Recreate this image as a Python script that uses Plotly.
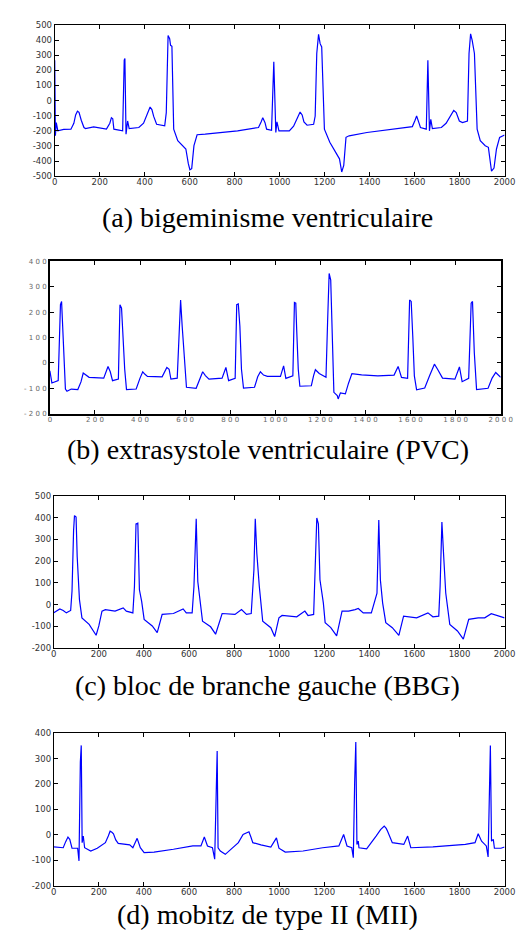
import plotly.graph_objects as go

# ---------------- data ----------------
# (a) bigeminisme ventriculaire
a_x = [0, 3, 7, 14, 40, 72, 85, 93, 101, 108, 118, 130, 137, 173, 230, 245, 252, 258, 263, 302, 309,
       312, 317, 324, 331, 374, 395, 412, 424, 432, 440, 453, 489, 496, 504, 511, 515, 521, 529, 547,
       576, 583, 594, 601, 609, 619, 633, 669, 813, 906, 918, 925, 935, 942, 964, 974, 983, 988, 997,
       1043, 1062, 1080, 1091, 1100, 1108, 1122, 1151, 1158, 1165, 1173, 1180, 1187, 1199, 1223, 1259,
       1266, 1276, 1285, 1295, 1309, 1388, 1532, 1590, 1602, 1609, 1619, 1626, 1652, 1659, 1666, 1672,
       1679, 1719, 1740, 1760, 1774, 1785, 1799, 1813, 1835, 1842, 1849, 1856, 1866, 1878, 1892, 1914,
       1928, 1942, 1953, 1964, 1978, 2000]
a_y = [267, -233, -146, -200, -190, -189, -150, -95, -70, -78, -130, -178, -185, -174, -189, -150, -113,
       -120, -189, -200, 267, 278, -222, -135, -185, -178, -150, -90, -43, -60, -105, -157, -167, -80,
       430, 409, 365, 359, -189, -265, -309, -320, -417, -457, -450, -298, -226, -222, -200, -178,
       -140, -113, -146, -189, -196, 257, -211, -141, -200, -200, -170, -110, -76, -95, -141, -163,
       -157, -102, 311, 437, 376, 354, -189, -276, -363, -385, -472, -428, -243, -233, -211, -185,
       -172, -130, -102, -146, -178, -189, 267, -200, -124, -185, -178, -150, -95, -65, -80, -135,
       -146, -135, 311, 441, 398, 311, -189, -265, -298, -309, -467, -446, -320, -243, -228]

# (b) extrasystole ventriculaire (PVC)
b_x = [0, 9, 37, 42, 47, 52, 56, 62, 69, 76, 95, 124, 138, 148, 160, 174, 239, 250, 258, 268, 278, 304,
       311, 318, 325, 332, 340, 383, 400, 412, 422, 433, 498, 510, 519, 529, 537, 565, 574, 580, 587,
       599, 606, 649, 665, 678, 690, 706, 764, 772, 781, 793, 822, 829, 836, 843, 850, 859, 908, 922,
       934, 948, 965, 1023, 1037, 1047, 1078, 1085, 1091, 1095, 1102, 1109, 1160, 1170, 1178, 1195,
       1210, 1225, 1232, 1239, 1246, 1253, 1260, 1275, 1279, 1289, 1311, 1325, 1340, 1383, 1455, 1527,
       1537, 1545, 1560, 1587, 1596, 1603, 1610, 1617, 1627, 1663, 1685, 1706, 1720, 1742, 1797, 1808,
       1817, 1829, 1858, 1869, 1875, 1883, 1893, 1944, 1962, 1978, 2000]
b_y = [-31, -79, -70, 105, 229, 242, 144, 40, -103, -112, -103, -105, -75, -40, -48, -57, -60, -35, -14,
       -35, -70, -64, 229, 216, 92, -25, -105, -103, -60, -35, -45, -53, -55, -35, -18, -25, -64, -60,
       131, 248, 144, -25, -96, -100, -60, -35, -50, -64, -60, -40, -18, -70, -61, 229, 232, 144, -25,
       -99, -96, -55, -35, -48, -53, -53, -12, -61, -51, 238, 235, 131, -25, -92, -90, -50, -27, -42,
       -51, -57, 157, 352, 326, 92, -116, -129, -142, -118, -122, -80, -42, -47, -51, -48, -25, -14,
       -57, -61, 248, 242, 105, -51, -106, -99, -50, -5, -25, -60, -64, -35, -16, -74, -61, 235, 242,
       40, -105, -100, -60, -38, -57]

# (c) bloc de branche gauche (BBG)
c_x = [0, 27, 42, 56, 75, 81, 88, 92, 99, 104, 114, 125, 157, 183, 188, 200, 214, 229, 272, 308, 322,
       351, 358, 365, 373, 380, 390, 401, 437, 459, 481, 531, 574, 588, 614, 622, 632, 639, 649, 660,
       696, 718, 747, 804, 833, 855, 876, 888, 894, 901, 912, 927, 963, 980, 999, 1013, 1078, 1114,
       1128, 1153, 1160, 1167, 1174, 1181, 1196, 1204, 1229, 1255, 1279, 1308, 1337, 1351, 1373, 1409,
       1434, 1442, 1449, 1459, 1473, 1502, 1531, 1552, 1610, 1660, 1682, 1708, 1714, 1722, 1730, 1739,
       1757, 1791, 1817, 1841, 1883, 1912, 1941, 1978, 2000]
c_y = [-38, -20, -27, -38, -27, 61, 341, 409, 402, 220, 23, -61, -91, -129, -141, -98, -30, -23, -30,
       -15, -30, -38, 83, 371, 374, 68, 15, -68, -98, -129, -45, -41, -20, -38, -38, 83, 394, 106, 8,
       -76, -102, -136, -41, -45, -23, -45, -41, 159, 394, 235, 83, -76, -106, -147, -61, -50, -56, -30,
       -50, -45, 174, 398, 371, 114, 8, -83, -106, -144, -30, -30, -23, -18, -38, -38, 53, 389, 114, 8,
       -83, -106, -141, -53, -61, -38, -56, -53, 83, 379, 220, 53, -91, -121, -159, -68, -61, -61, -42,
       -56, -61]

# (d) mobitz de type II (MII)
d_x = [0, 42, 53, 63, 71, 81, 106, 112, 118, 122, 126, 131, 137, 164, 193, 229, 242, 250, 258, 265,
       275, 286, 337, 351, 370, 384, 401, 445, 531, 617, 653, 668, 682, 704, 714, 721, 725, 729, 739,
       761, 819, 840, 856, 866, 875, 883, 919, 963, 988, 999, 1027, 1106, 1193, 1265, 1286, 1301, 1322,
       1329, 1335, 1340, 1345, 1351, 1354, 1388, 1430, 1450, 1466, 1475, 1481, 1502, 1553, 1570, 1584,
       1682, 1826, 1869, 1883, 1898, 1919, 1927, 1932, 1937, 1942, 1950, 1955, 1984, 2000]
d_y = [-48, -51, -27, -9, -18, -53, -53, -103, 287, 352, -31, -5, -51, -64, -53, -31, -5, 14, 10, 4,
       -20, -34, -40, -51, -14, -51, -70, -68, -57, -44, -44, -9, -44, -51, -96, 190, 330, -51, -64, -77,
       -31, 1, 8, 12, -10, -31, -40, -48, -12, -53, -68, -64, -51, -44, 1, -44, -51, -90, 209, 365, -38,
       -25, -51, -55, -5, 20, 34, 25, 14, -31, -38, -5, -51, -48, -38, -31, 4, -25, -44, -87, 131, 352,
       -25, -18, -53, -53, -48]

x_ticks = [0, 200, 400, 600, 800, 1000, 1200, 1400, 1600, 1800, 2000]
x_labels = ["0", "200", "400", "600", "800", "1000", "1200", "1400", "1600", "1800", "2000"]
x_labels_spaced = ["0", "2 0 0", "4 0 0", "6 0 0", "8 0 0", "1 0 0 0", "1 2 0 0", "1 4 0 0",
                   "1 6 0 0", "1 8 0 0", "2 0 0 0"]

a_yticks = [-500, -400, -300, -200, -100, 0, 100, 200, 300, 400, 500]
a_ylabels = ["-500", "-400", "-300", "-200", "-100", "0", "100", "200", "300", "400", "500"]
b_yticks = [-200, -100, 0, 100, 200, 300, 400]
b_ylabels = ["- 2 0 0", "- 1 0 0", "0", "1 0 0", "2 0 0", "3 0 0", "4 0 0"]
c_yticks = [-200, -100, 0, 100, 200, 300, 400, 500]
c_ylabels = ["-200", "-100", "0", "100", "200", "300", "400", "500"]
d_yticks = [-200, -100, 0, 100, 200, 300, 400]
d_ylabels = ["-200", "-100", "0", "100", "200", "300", "400"]

captions = ["(a) bigeminisme ventriculaire",
            "(b) extrasystole ventriculaire (PVC)",
            "(c) bloc de branche gauche (BBG)",
            "(d) mobitz de type II (MII)"]

# ---------------- layout geometry (pixels) ----------------
W, H = 528, 934
panels = [
    (45, 508, 12, 165, a_x, a_y, [-500, 500], a_yticks, a_ylabels, x_labels, 8.5, "#333333", 1),
    (40, 504, 251, 405, b_x, b_y, [-200, 400], b_yticks, b_ylabels, x_labels_spaced, 7, "#666666", 1.6),
    (44, 508, 488, 642, c_x, c_y, [-200, 500], c_yticks, c_ylabels, x_labels, 8.5, "#333333", 1),
    (44, 508, 728, 882, d_x, d_y, [-200, 400], d_yticks, d_ylabels, x_labels, 8.5, "#333333", 1),
]
caption_y = [207, 441, 680, 911]

fig = go.Figure()
layout = dict(width=W, height=H, margin=dict(l=0, r=0, t=0, b=0),
              paper_bgcolor="white", plot_bgcolor="white", showlegend=False)

annotations = []
for i, (l, r, t, b, xs, ys, yr, yt, yl, xl, fs, fc, lw) in enumerate(panels):
    n = "" if i == 0 else str(i + 1)
    fig.add_trace(go.Scatter(x=xs, y=ys, mode="lines",
                             line=dict(color="#0000ff", width=1.2),
                             xaxis="x" + n, yaxis="y" + n, hoverinfo="skip"))
    tickfont = dict(family="DejaVu Sans", size=fs, color=fc)
    layout["xaxis" + n] = dict(domain=[l / W, r / W], range=[0, 2000], anchor="y" + n,
                               tickvals=x_ticks, ticktext=xl, ticks="inside", ticklen=4,
                               tickcolor="black", showline=True, linecolor="black", linewidth=lw,
                               mirror="ticks", showgrid=False, zeroline=False, tickfont=tickfont,
                               ticklabelstandoff=-2, fixedrange=True)
    layout["yaxis" + n] = dict(domain=[1 - b / H, 1 - t / H], range=yr, anchor="x" + n,
                               tickvals=yt, ticktext=yl, ticks="inside", ticklen=4,
                               tickcolor="black", showline=True, linecolor="black", linewidth=lw,
                               mirror="ticks", showgrid=False, zeroline=False, tickfont=tickfont,
                               fixedrange=True)
    annotations.append(dict(text=captions[i], x=0.5, y=1 - caption_y[i] / H,
                            xref="paper", yref="paper", xanchor="center", yanchor="middle",
                            showarrow=False,
                            font=dict(family="Liberation Serif", size=28, color="black")))

layout["annotations"] = annotations
fig.update_layout(**layout)
fig.write_html("out.html")
